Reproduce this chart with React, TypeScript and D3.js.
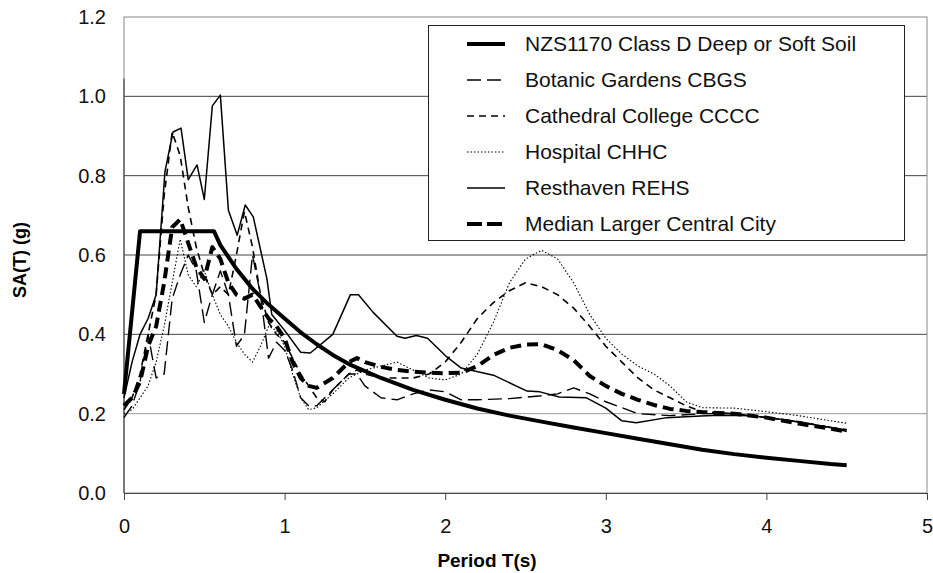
import * as d3 from 'd3';
import { useEffect, useRef } from 'react';

// [period T (s), SA (g)]
const nzs1170: [number, number][] = [
  [0, 0.25], [0.1, 0.66], [0.56, 0.66], [0.6, 0.625], [0.7, 0.565], [0.8, 0.515], [0.9, 0.475],
  [1.0, 0.44], [1.1, 0.405], [1.2, 0.375], [1.3, 0.348], [1.4, 0.325], [1.6, 0.29], [1.8, 0.26],
  [2.0, 0.235], [2.2, 0.213], [2.4, 0.195], [2.6, 0.18], [2.8, 0.165], [3.0, 0.151], [3.2, 0.137],
  [3.4, 0.123], [3.6, 0.109], [3.8, 0.098], [4.0, 0.089], [4.2, 0.081], [4.4, 0.073], [4.5, 0.07],
];

const botanic: [number, number][] = [
  [0, 0.19], [0.05, 0.22], [0.1, 0.28], [0.15, 0.4], [0.2, 0.29], [0.25, 0.3], [0.3, 0.49],
  [0.35, 0.55], [0.4, 0.6], [0.45, 0.56], [0.5, 0.43], [0.55, 0.5], [0.6, 0.56], [0.65, 0.5],
  [0.7, 0.37], [0.75, 0.4], [0.8, 0.6], [0.85, 0.5], [0.9, 0.34], [0.95, 0.38], [1.0, 0.36],
  [1.05, 0.31], [1.1, 0.24], [1.15, 0.22], [1.2, 0.22], [1.3, 0.26], [1.4, 0.3], [1.45, 0.3],
  [1.5, 0.27], [1.6, 0.24], [1.7, 0.235], [1.8, 0.25], [1.9, 0.26], [2.0, 0.255], [2.1, 0.235],
  [2.2, 0.235], [2.4, 0.238], [2.6, 0.245], [2.7, 0.25], [2.8, 0.265], [2.9, 0.25], [3.0, 0.23],
  [3.2, 0.2], [3.4, 0.195], [3.6, 0.2], [3.8, 0.2], [4.0, 0.19], [4.2, 0.18], [4.4, 0.165], [4.5, 0.155],
];

const cathedral: [number, number][] = [
  [0, 0.21], [0.05, 0.24], [0.1, 0.3], [0.15, 0.4], [0.2, 0.5], [0.25, 0.75], [0.3, 0.91],
  [0.35, 0.85], [0.4, 0.72], [0.45, 0.62], [0.5, 0.55], [0.55, 0.5], [0.6, 0.52], [0.65, 0.5],
  [0.7, 0.6], [0.75, 0.71], [0.8, 0.62], [0.85, 0.5], [0.9, 0.43], [0.95, 0.4], [1.0, 0.38],
  [1.05, 0.34], [1.1, 0.3], [1.15, 0.27], [1.2, 0.24], [1.25, 0.23], [1.3, 0.26], [1.4, 0.3],
  [1.45, 0.31], [1.5, 0.3], [1.6, 0.29], [1.7, 0.29], [1.8, 0.29], [1.9, 0.3], [2.0, 0.33],
  [2.1, 0.38], [2.2, 0.44], [2.3, 0.48], [2.4, 0.51], [2.5, 0.53], [2.6, 0.52], [2.7, 0.5],
  [2.8, 0.466], [2.9, 0.42], [3.0, 0.37], [3.1, 0.33], [3.2, 0.29], [3.3, 0.26], [3.4, 0.24],
  [3.5, 0.22], [3.6, 0.205], [3.8, 0.2], [4.0, 0.19], [4.2, 0.18], [4.4, 0.165], [4.5, 0.16],
];

const hospital: [number, number][] = [
  [0, 0.2], [0.05, 0.21], [0.1, 0.24], [0.15, 0.27], [0.2, 0.33], [0.25, 0.42], [0.3, 0.53],
  [0.35, 0.64], [0.4, 0.55], [0.45, 0.52], [0.5, 0.56], [0.55, 0.5], [0.6, 0.45], [0.65, 0.42],
  [0.7, 0.38], [0.75, 0.35], [0.8, 0.33], [0.85, 0.37], [0.9, 0.42], [0.95, 0.41], [1.0, 0.37],
  [1.05, 0.3], [1.1, 0.24], [1.15, 0.21], [1.2, 0.215], [1.3, 0.25], [1.4, 0.29], [1.5, 0.31],
  [1.6, 0.32], [1.7, 0.33], [1.8, 0.31], [1.9, 0.29], [2.0, 0.285], [2.1, 0.3], [2.2, 0.35],
  [2.3, 0.43], [2.4, 0.53], [2.5, 0.59], [2.6, 0.612], [2.7, 0.59], [2.8, 0.53], [2.9, 0.45],
  [3.0, 0.39], [3.1, 0.35], [3.2, 0.32], [3.3, 0.3], [3.4, 0.27], [3.5, 0.23], [3.6, 0.215],
  [3.8, 0.214], [4.0, 0.205], [4.2, 0.195], [4.4, 0.182], [4.5, 0.176],
];

const resthaven: [number, number][] = [
  [0, 0.24], [0.05, 0.33], [0.1, 0.4], [0.15, 0.44], [0.2, 0.5], [0.255, 0.81], [0.305, 0.91],
  [0.355, 0.92], [0.4, 0.79], [0.455, 0.827], [0.5, 0.74], [0.55, 0.976], [0.6, 1.003],
  [0.65, 0.713], [0.705, 0.65], [0.755, 0.726], [0.805, 0.696], [0.89, 0.54], [0.92, 0.45],
  [1.0, 0.41], [1.1, 0.355], [1.16, 0.353], [1.3, 0.4], [1.41, 0.5], [1.46, 0.5], [1.55, 0.456],
  [1.7, 0.395], [1.75, 0.39], [1.82, 0.397], [1.89, 0.39], [2.01, 0.343], [2.1, 0.315],
  [2.3, 0.297], [2.51, 0.257], [2.59, 0.255], [2.71, 0.242], [2.88, 0.24], [3.0, 0.214],
  [3.1, 0.182], [3.19, 0.177], [3.38, 0.19], [3.59, 0.194], [3.71, 0.196], [3.9, 0.195],
  [4.1, 0.185], [4.3, 0.172], [4.5, 0.158],
];

const median: [number, number][] = [
  [0, 0.22], [0.05, 0.24], [0.1, 0.28], [0.15, 0.37], [0.2, 0.42], [0.25, 0.53], [0.3, 0.67],
  [0.35, 0.69], [0.4, 0.63], [0.45, 0.57], [0.5, 0.54], [0.55, 0.62], [0.6, 0.59], [0.65, 0.53],
  [0.7, 0.5], [0.75, 0.49], [0.8, 0.5], [0.85, 0.47], [0.9, 0.44], [0.95, 0.42], [1.0, 0.39],
  [1.05, 0.33], [1.1, 0.29], [1.15, 0.27], [1.2, 0.265], [1.3, 0.29], [1.4, 0.33], [1.45, 0.34],
  [1.5, 0.33], [1.6, 0.318], [1.7, 0.31], [1.8, 0.306], [1.9, 0.303], [2.0, 0.302], [2.1, 0.303],
  [2.2, 0.32], [2.3, 0.348], [2.4, 0.366], [2.5, 0.374], [2.6, 0.375], [2.7, 0.36], [2.8, 0.335],
  [2.9, 0.295], [3.0, 0.27], [3.1, 0.25], [3.2, 0.235], [3.3, 0.222], [3.4, 0.212], [3.5, 0.207],
  [3.6, 0.204], [3.8, 0.2], [4.0, 0.19], [4.2, 0.175], [4.4, 0.162], [4.5, 0.155],
];

const seriesNames = [
  'NZS1170 Class D Deep or Soft Soil',
  'Botanic Gardens CBGS',
  'Cathedral College CCCC',
  'Hospital CHHC',
  'Resthaven REHS',
  'Median Larger Central City',
];

const xTicks = [0, 1, 2, 3, 4, 5];
const yTicks = [0, 0.2, 0.4, 0.6, 0.8, 1.0, 1.2];

function App() {
  const svgRef = useRef<SVGSVGElement>(null);

  useEffect(() => {
    document.body.style.margin = '0';
    const w = 933;
    const h = 573;
    const left = 124, right = 927, top = 17, bottom = 493;
    const font = '"Liberation Sans", Arial, sans-serif';

    const svg = d3.select(svgRef.current)
      .attr('width', w)
      .attr('height', h)
      .style('display', 'block');
    svg.selectAll('*').remove();

    const x = d3.scaleLinear().domain([0, 5]).range([left, right]);
    const y = d3.scaleLinear().domain([0, 1.2]).range([bottom, top]);

    // gridlines
    svg.append('g')
      .selectAll('line')
      .data(yTicks.filter(v => v > 0 && v < 1.2))
      .join('line')
        .attr('x1', left).attr('x2', right)
        .attr('y1', v => y(v)).attr('y2', v => y(v))
        .attr('stroke', v => (v < 0.3 ? '#9a9a9a' : '#444'))
        .attr('stroke-width', 1);

    // frame
    svg.append('rect')
      .attr('x', left).attr('y', top)
      .attr('width', right - left).attr('height', bottom - top)
      .attr('fill', 'none').attr('stroke', '#888');

    const xAxis = d3.axisBottom(x).tickValues(xTicks).tickSize(7).tickPadding(19).tickFormat(d3.format('d'));
    const gx = svg.append('g').attr('transform', `translate(0,${bottom})`).call(xAxis);
    gx.select('.domain').attr('stroke', '#444');
    gx.selectAll('line').attr('stroke', '#444');
    gx.selectAll('text').attr('font-size', 20).attr('font-family', font).attr('fill', '#111');

    const yAxis = d3.axisLeft(y).tickValues(yTicks).tickSize(0).tickPadding(18).tickFormat(d3.format('.1f'));
    const gy = svg.append('g').attr('transform', `translate(${left},0)`).call(yAxis);
    gy.select('.domain').remove();
    gy.selectAll('text').attr('font-size', 20).attr('font-family', font).attr('fill', '#111');
    svg.append('line')
      .attr('x1', left).attr('x2', left).attr('y1', y(1.045)).attr('y2', bottom)
      .attr('stroke', '#333');

    const line = d3.line<[number, number]>()
      .x(d => x(d[0]))
      .y(d => y(d[1]));

    const styles = [
      { data: nzs1170, width: 4, dash: null },
      { data: botanic, width: 1.4, dash: '14,6' },
      { data: cathedral, width: 1.6, dash: '7,5' },
      { data: hospital, width: 1.1, dash: '1.5,2' },
      { data: resthaven, width: 1.5, dash: null },
      { data: median, width: 4, dash: '11,6' },
    ];

    const g = svg.append('g');
    styles.forEach(s => {
      g.append('path')
        .datum(s.data)
        .attr('d', line)
        .attr('fill', 'none')
        .attr('stroke', '#000')
        .attr('stroke-width', s.width)
        .attr('stroke-linejoin', 'round')
        .attr('stroke-dasharray', s.dash);
    });

    // legend
    const lg = svg.append('g');
    lg.append('rect')
      .attr('x', 428.5).attr('y', 25.5).attr('width', 476).attr('height', 215)
      .attr('fill', '#fff').attr('stroke', '#222');
    styles.forEach((s, i) => {
      const cy = 44 + i * 36;
      lg.append('line')
        .attr('x1', 467).attr('x2', 505).attr('y1', cy).attr('y2', cy)
        .attr('stroke', '#000').attr('stroke-width', s.width)
        .attr('stroke-dasharray', i === 5 ? '15,5' : i === 1 ? '14,6' : s.dash);
      lg.append('text')
        .attr('x', 525).attr('y', cy).attr('dy', '0.35em')
        .attr('font-size', 21).attr('font-family', font).attr('fill', '#111')
        .text(seriesNames[i]);
    });

    svg.append('text')
      .attr('x', 487).attr('y', 567).attr('text-anchor', 'middle')
      .attr('font-size', 19).attr('font-weight', 'bold').attr('font-family', font)
      .text('Period T(s)');

    svg.append('text')
      .attr('transform', 'translate(26,260) rotate(-90)').attr('text-anchor', 'middle')
      .attr('font-size', 18).attr('font-weight', 'bold').attr('font-family', font)
      .text('SA(T) (g)');
  }, []);

  return (
    <div>
      <svg ref={svgRef}></svg>
    </div>
  );
}

export default App;
